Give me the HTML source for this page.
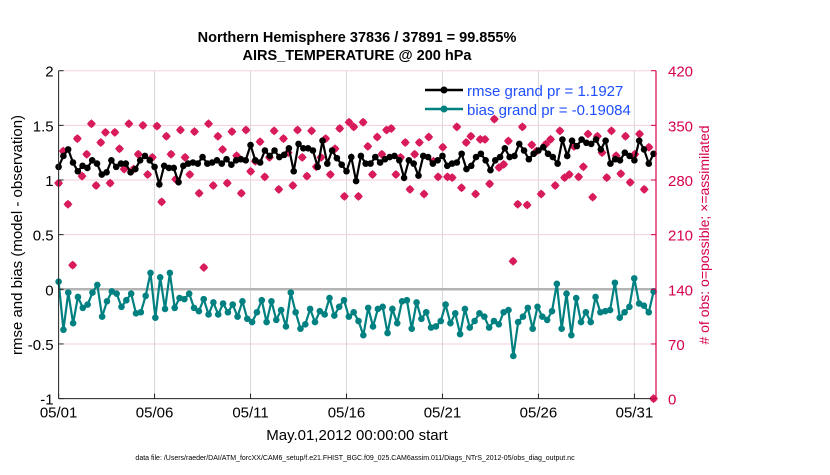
<!DOCTYPE html>
<html><head><meta charset="utf-8"><style>
body{margin:0;background:#fff;}
svg text{font-family:"Liberation Sans",Arial,sans-serif;}
</style></head><body>
<svg id="chart" width="830" height="470" xmlns="http://www.w3.org/2000/svg">
<rect width="830" height="470" fill="#fff"/>
<text x="357" y="42" text-anchor="middle" font-size="14.5" font-weight="bold">Northern Hemisphere 37836 / 37891 = 99.855%</text>
<text x="357" y="60" text-anchor="middle" font-size="14.5" font-weight="bold">AIRS_TEMPERATURE @ 200 hPa</text>
<g id="grid"></g>
<g id="marks"></g>
<g id="axes"></g>
<text transform="translate(22,235) rotate(-90)" text-anchor="middle" font-size="15">rmse and bias (model - observation)</text>
<text transform="translate(709,235) rotate(-90)" text-anchor="middle" font-size="14" fill="#d6004f"># of obs: o=possible; ×=assimilated</text>
<text x="357" y="440" text-anchor="middle" font-size="15">May.01,2012 00:00:00 start</text>
<text x="355" y="460" text-anchor="middle" font-size="7">data file: /Users/raeder/DAI/ATM_forcXX/CAM6_setup/f.e21.FHIST_BGC.f09_025.CAM6assim.011/Diags_NTrS_2012-05/obs_diag_output.nc</text>
<g>
<line x1="425" y1="90" x2="463" y2="90" stroke="#000" stroke-width="2.5"/><circle cx="444" cy="90" r="3.5" fill="#000"/>
<text x="467" y="96" font-size="15" fill="#1f4fff">rmse grand pr = 1.1927</text>
<line x1="425" y1="109" x2="463" y2="109" stroke="#008080" stroke-width="2.5"/><circle cx="444" cy="109" r="3.5" fill="#008080"/>
<text x="467" y="115" font-size="15" fill="#1f4fff">bias grand pr = -0.19084</text>
</g>
</svg>
<script>
const xTickLabels=["05/01","05/06","05/11","05/16","05/21","05/26","05/31"];
const xTickDays=[0,5,10,15,20,25,30];
const yTickLabels=["-1","-0.5","0","0.5","1","1.5","2"];
const yTickValues=[-1,-0.5,0,0.5,1,1.5,2];
const rTickValues=[0,70,140,210,280,350,420];
const rmse=[1.12,1.22,1.28,1.16,1.08,1.13,1.11,1.18,1.15,1.05,1.07,1.18,1.12,1.15,1.15,1.07,1.10,1.18,1.22,1.18,1.12,0.96,1.13,1.11,1.11,0.98,1.13,1.15,1.16,1.15,1.21,1.15,1.16,1.18,1.15,1.19,1.14,1.18,1.19,1.18,1.32,1.18,1.16,1.27,1.22,1.27,1.21,1.23,1.29,1.08,1.33,1.29,1.29,1.27,1.12,1.36,1.15,1.27,1.20,1.14,1.08,1.21,0.99,
1.22,1.15,1.15,1.21,1.16,1.19,1.21,1.22,1.18,1.02,1.18,1.15,1.04,1.22,1.21,1.15,1.18,1.22,1.13,1.15,1.16,1.24,1.10,1.13,1.21,1.24,1.18,1.09,1.18,1.21,1.29,1.21,1.22,1.33,1.27,1.19,1.24,1.27,1.30,1.24,1.21,1.15,1.37,1.22,1.36,1.31,1.37,1.34,1.33,1.37,1.28,1.36,1.15,1.19,1.18,1.25,1.22,1.18,1.36,1.28,1.15,1.24];
const bias=[0.07,-0.37,-0.03,-0.31,-0.07,-0.17,-0.14,-0.03,0.04,-0.25,-0.11,-0.02,-0.04,-0.16,-0.10,-0.04,-0.22,-0.21,-0.06,0.15,-0.26,0.11,-0.18,0.15,-0.17,-0.08,-0.09,-0.04,-0.17,-0.20,-0.09,-0.23,-0.12,-0.23,-0.13,-0.21,-0.14,-0.25,-0.11,-0.27,-0.30,-0.21,-0.10,-0.30,-0.11,-0.28,-0.19,-0.34,-0.03,-0.21,-0.36,-0.32,-0.18,-0.30,-0.20,-0.23,-0.08,-0.24,-0.16,-0.10,-0.25,-0.21,-0.29,-0.42,-0.17,-0.34,-0.18,-0.16,-0.40,-0.18,-0.31,-0.11,-0.10,-0.36,-0.12,-0.27,-0.21,-0.35,-0.34,-0.29,-0.14,-0.31,-0.22,-0.41,-0.18,-0.35,-0.29,-0.22,-0.25,-0.35,-0.29,-0.32,-0.21,-0.19,-0.61,-0.30,-0.25,-0.17,-0.36,-0.16,-0.25,-0.28,-0.20,0.05,-0.36,-0.04,-0.42,-0.08,-0.30,-0.21,-0.30,-0.07,-0.21,-0.20,-0.19,0.06,-0.26,-0.21,-0.16,0.10,-0.13,-0.15,-0.21,-0.02];
const nobs=[276,317,249,171,333,285,313,352,273,328,341,276,341,320,294,352,294,313,350,287,309,349,252,336,313,281,344,309,287,342,263,168,352,273,336,319,276,342,311,263,344,291,304,329,284,309,343,268,333,315,273,344,309,285,343,297,309,333,287,320,346,259,354,
348,259,354,323,287,335,313,344,346,287,309,328,268,313,328,262,335,304,284,322,284,283,348,270,328,336,262,332,332,275,358,296,300,330,176,249,348,248,325,317,262,326,332,273,343,283,287,323,284,297,339,258,336,315,283,343,311,288,336,277,313,339,268,322,0];
const X0=58.6,X1=656,Y2=70.7,Ym1=398.6,DMAX=31.125,DLAST=31;
const sx=d=>X0+(X1-X0)*d/DMAX;
const sy=v=>Ym1-(v+1)*(Ym1-Y2)/3;
const sr=n=>sy(n/140-1);
const NS="http://www.w3.org/2000/svg";
function mk(parent,tag,attrs){const e=document.createElementNS(NS,tag);for(const k in attrs)e.setAttribute(k,attrs[k]);document.getElementById(parent).appendChild(e);return e;}
xTickDays.forEach(d=>{const l=mk('grid','line',{x1:sx(d),x2:sx(d),y1:Y2,y2:Ym1,stroke:'#d8d8d8','stroke-width':1});

});
rTickValues.forEach(n=>{const l=mk('grid','line',{x1:X0,x2:X1,y1:sr(n),y2:sr(n),stroke:'#f6cfdc','stroke-width':1});

});
const z=mk('grid','line',{x1:X0,x2:X1,y1:sy(0),y2:sy(0),stroke:'#b4b4b4','stroke-width':2.5});


nobs.forEach((n,i)=>{const d=i*DLAST/(nobs.length-1);const g=mk('marks','g',{});


const x=sx(d),y=sr(n);
const p=document.createElementNS(NS,'path');p.setAttribute('d',`M${x-4.5},${y}L${x},${y-4.5}L${x+4.5},${y}L${x},${y+4.5}Z`);p.setAttribute('fill','#d81b5a');g.appendChild(p);
const c=document.createElementNS(NS,'circle');c.setAttribute('cx',x);c.setAttribute('cy',y);c.setAttribute('r',3.5);c.setAttribute('fill','#d81b5a');g.appendChild(c);});
function series(arr,color,name){const step=DLAST/(arr.length-1);const pts=arr.map((v,i)=>sx(i*step)+','+sy(v)).join(' ');
const pl=mk('marks','polyline',{points:pts,fill:'none',stroke:color,'stroke-width':2.2});


arr.forEach((v,i)=>{const c=mk('marks','circle',{cx:sx(i*step),cy:sy(v),r:3.3,fill:color});

});}
series(rmse,'#000','rmse');
series(bias,'#008080','bias');
const la=mk('axes','line',{x1:X0,x2:X0,y1:Y2,y2:Ym1,stroke:'#262626','stroke-width':1});


const ba=mk('axes','line',{x1:X0,x2:X1,y1:Ym1,y2:Ym1,stroke:'#262626','stroke-width':1});


const ra=mk('axes','line',{x1:X1,x2:X1,y1:Y2,y2:Ym1,stroke:'#d6004f','stroke-width':1.2});


yTickValues.forEach((v,i)=>{mk('axes','line',{x1:X0,x2:X0+5,y1:sy(v),y2:sy(v),stroke:'#262626'});
const t=mk('axes','text',{x:X0-5,y:sy(v)+6,'text-anchor':'end','font-size':15});t.textContent=yTickLabels[i];

});
rTickValues.forEach(n=>{mk('axes','line',{x1:X1-5,x2:X1,y1:sr(n),y2:sr(n),stroke:'#d6004f'});
const t=mk('axes','text',{x:X1+12,y:sr(n)+6,'font-size':15,fill:'#d6004f'});t.textContent=n;

});
xTickDays.forEach((d,i)=>{mk('axes','line',{x1:sx(d),x2:sx(d),y1:Ym1,y2:Ym1-5,stroke:'#262626'});
const t=mk('axes','text',{x:sx(d),y:Ym1+19,'text-anchor':'middle','font-size':15});t.textContent=xTickLabels[i];

});
</script>
</body></html>
